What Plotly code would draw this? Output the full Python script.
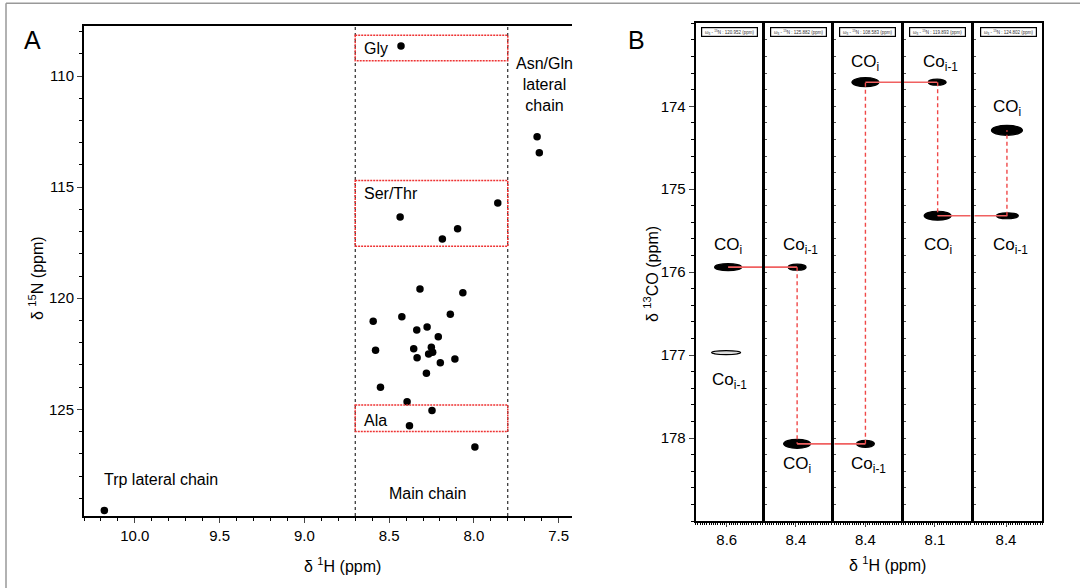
import plotly.graph_objects as go

W, H = 1080, 588
FONT = "Liberation Sans, Arial, sans-serif"

# ---------------- Panel A data (1H-15N HSQC) ----------------
main_h = [8.318, 8.065, 8.594, 8.425, 8.139, 8.337, 8.276, 8.210, 8.580, 8.355, 8.335,
          8.251, 8.267, 8.243, 8.198, 8.112, 8.280, 8.551, 8.394, 8.247, 8.380, 7.994]
main_n = [119.58, 119.75, 121.04, 120.83, 120.72, 121.43, 121.29, 121.73, 122.34, 122.27, 122.68,
          122.21, 122.51, 122.43, 122.90, 122.73, 123.38, 124.01, 124.66, 125.05, 125.74, 126.70]
gly_h = [8.43]
gly_n = [108.65]
sert_h = [8.435, 7.859, 8.096, 8.186]
sert_n = [116.35, 115.72, 116.87, 117.34]
asngln_h = [7.627, 7.614]
asngln_n = [112.73, 113.45]
trp_h = [10.18]
trp_n = [129.55]

main_chain_h = [8.7, 7.8]
region_labels = ["Gly", "Ser/Thr", "Ala"]
region_n_top = [108.17, 114.70, 124.81]
region_n_bottom = [109.31, 117.66, 126.00]
region_label_n = [108.74, 115.30, 125.50]

# ---------------- Panel B data (HNCO strips) ----------------
strip_h_tick = [8.6, 8.4, 8.4, 8.1, 8.4]
strip_n15 = ["120.952", "125.882", "108.583", "119.893", "124.802"]
b_ytick_vals = [174, 175, 176, 177, 178]
coi_h = [8.594, 8.394, 8.400, 8.088, 8.396]
coi_c = [175.94, 178.07, 173.71, 175.32, 174.29]
coim1_h = [8.603, 8.394, 8.400, 8.090, 8.394]
coim1_c = [176.97, 175.94, 178.07, 173.71, 175.32]
coi_label_c = [175.69, 178.32, 173.48, 175.69, 174.02]
coim1_label_c = [177.31, 175.69, 178.32, 173.48, 175.69]

# ---------------- styles ----------------
coi_w = [27, 27, 27, 27, 31]
coi_ht = [7, 9, 9, 9, 10]
coim1_w = [29, 18, 18, 18, 22]
coim1_ht = [4, 6, 7, 6, 6]
coim1_fill = ["#dddddd", "black", "black", "black", "black"]

A_left, A_right, A_top, A_bottom = 84, 572.2, 26, 516
B_top, B_bottom = 23.3, 521
strip_px = [(695.7, 762.3), (765, 831), (834.3, 901), (903.7, 970.7), (974.3, 1042.3)]


def xd(a, b):
    return [a / W, b / W]


def yd(top, bottom):
    return [1 - bottom / H, 1 - top / H]


def txt(size=16):
    return dict(size=size, color="black", family=FONT)


fig = go.Figure()

# Panel A peaks
for hh, nn in [(main_h, main_n), (gly_h, gly_n), (sert_h, sert_n), (asngln_h, asngln_n), (trp_h, trp_n)]:
    fig.add_trace(go.Scatter(x=hh, y=nn, mode="markers", xaxis="x", yaxis="y",
                             marker=dict(color="black", size=7.5, line=dict(width=0)),
                             showlegend=False, hoverinfo="skip"))

shapes = []
annotations = []

# dashed main-chain boundaries
for hv in main_chain_h:
    shapes.append(dict(type="line", xref="x", yref="y domain", x0=hv, x1=hv, y0=0, y1=1,
                       line=dict(color="black", width=1, dash="3px,3px")))
# red dotted boxes
for lab, nt, nb, nl in zip(region_labels, region_n_top, region_n_bottom, region_label_n):
    shapes.append(dict(type="rect", xref="x", yref="y", x0=main_chain_h[0], x1=main_chain_h[1],
                       y0=nt, y1=nb, line=dict(color="#ee3333", width=1.5, dash="2px,1px")))
    annotations.append(dict(text=lab, x=main_chain_h[0], y=nl, xref="x", yref="y",
                            xanchor="left", yanchor="middle", xshift=7, showarrow=False,
                            font=txt()))

annotations += [
    dict(text="Main chain", x=8.275, y=128.78, xref="x", yref="y", showarrow=False,
         xanchor="center", yanchor="middle", font=txt()),
    dict(text="Trp lateral chain", x=9.848, y=128.14, xref="x", yref="y", showarrow=False,
         xanchor="center", yanchor="middle", font=txt()),
    dict(text="Asn/Gln<br>lateral<br>chain", x=7.584, y=110.37, xref="x", yref="y", showarrow=False,
         xanchor="center", yanchor="middle", font=txt()),
    dict(text="A", x=32 / W, y=1 - 40 / H, xref="paper", yref="paper", showarrow=False,
         xanchor="center", yanchor="middle", font=txt(25)),
    dict(text="B", x=636 / W, y=1 - 40 / H, xref="paper", yref="paper", showarrow=False,
         xanchor="center", yanchor="middle", font=txt(25)),
    dict(text="δ <sup>1</sup>H (ppm)", x=342 / W, y=1 - 565 / H, xref="paper", yref="paper",
         xanchor="center", yanchor="middle", showarrow=False, font=txt()),
    dict(text="δ <sup>15</sup>N (ppm)", x=36 / W, y=1 - 278 / H, xref="paper", yref="paper",
         xanchor="center", yanchor="middle", showarrow=False, textangle=-90, font=txt()),
    dict(text="δ <sup>1</sup>H (ppm)", x=887 / W, y=1 - 564 / H, xref="paper", yref="paper",
         xanchor="center", yanchor="middle", showarrow=False, font=txt()),
    dict(text="δ <sup>13</sup>CO (ppm)", x=651 / W, y=1 - 274 / H, xref="paper", yref="paper",
         xanchor="center", yanchor="middle", showarrow=False, textangle=-90, font=txt()),
]

layout_axes = {}
layout_axes["xaxis"] = dict(domain=xd(A_left, A_right), range=[10.3, 7.42], anchor="y",
                            tick0=0, dtick=0.5, tickformat=".1f", ticks="outside", ticklen=5,
                            tickwidth=1.2, showline=True, linewidth=2, linecolor="black",
                            mirror=True, showgrid=False, zeroline=False,
                            minor=dict(dtick=0.1, ticks="outside", ticklen=3, tickwidth=1, tickcolor="black"),
                            tickfont=txt(15))
layout_axes["yaxis"] = dict(domain=yd(A_top, A_bottom), range=[129.8, 107.75], anchor="x",
                            tick0=0, dtick=5, ticks="outside", ticklen=5, tickwidth=1.2,
                            showline=True, linewidth=2, linecolor="black", showgrid=False,
                            zeroline=False,
                            minor=dict(dtick=1, ticks="outside", ticklen=3, tickwidth=1, tickcolor="black"),
                            tickfont=txt(15))

# Panel B strips
for k in range(5):
    xa = "x%d" % (k + 2)
    ya = "y%d" % (k + 2)
    c = strip_h_tick[k]
    xr = [c + 0.14, c - 0.16]
    layout_axes["xaxis%d" % (k + 2)] = dict(
        domain=xd(*strip_px[k]), range=xr, anchor=ya, tickvals=[c], ticktext=["%.1f" % c],
        ticks="outside", ticklen=4, tickwidth=1.2, showline=True, linewidth=2,
        linecolor="black", mirror=True, showgrid=False, zeroline=False,
        minor=dict(dtick=0.01, ticks="outside", ticklen=2, tickwidth=0.8, tickcolor="black"),
        tickfont=txt(15))
    yax = dict(domain=yd(B_top, B_bottom), range=[179, 173], anchor=xa, showline=True,
               linewidth=2, linecolor="black", mirror=True, showgrid=False, zeroline=False)
    if k == 0:
        yax.update(tickvals=b_ytick_vals, ticks="outside", ticklen=5, tickwidth=1.2,
                   minor=dict(dtick=0.2, tick0=0, ticks="outside", ticklen=3, tickwidth=1, tickcolor="black"),
                   tickfont=txt(15))
    else:
        yax.update(matches="y2", showticklabels=False, ticks="inside", ticklen=2, dtick=0.2,
                   tickwidth=0.8, tickcolor="#555")
    layout_axes["yaxis%d" % (k + 2)] = yax

    # peaks as ellipses of fixed pixel size
    for hh, cc, w, ht, fc in [(coi_h[k], coi_c[k], coi_w[k], coi_ht[k], "black"),
                              (coim1_h[k], coim1_c[k], coim1_w[k], coim1_ht[k], coim1_fill[k])]:
        shapes.append(dict(type="circle", xref=xa, yref=ya, xsizemode="pixel", ysizemode="pixel",
                           xanchor=hh, yanchor=cc, x0=-w / 2, x1=w / 2, y0=-ht / 2, y1=ht / 2,
                           fillcolor=fc, line=dict(color="black", width=1.2), layer="below"))

    # labels
    annotations.append(dict(text="CO<sub>i</sub>", x=coi_h[k], y=coi_label_c[k], xref=xa, yref=ya,
                            xanchor="center", yanchor="middle", showarrow=False, font=txt(17)))
    annotations.append(dict(text="Co<sub>i-1</sub>", x=coim1_h[k], y=coim1_label_c[k], xref=xa, yref=ya,
                            xanchor="center", yanchor="middle", xshift=3, showarrow=False, font=txt(17)))
    # strip header
    annotations.append(dict(text="ω<sub>3</sub> - <sup>15</sup>N : %s (ppm)" % strip_n15[k],
                            x=0.5, y=1 - 8.5 / (B_bottom - B_top), xref=xa + " domain", yref=ya + " domain",
                            xanchor="center", yanchor="middle",
                            showarrow=False, width=54, height=7, borderpad=0.5,
                            bordercolor="black", borderwidth=1.2, bgcolor="white",
                            font=dict(size=4.5, color="#333", family=FONT)))

# connection lines (sequential walk)
for k in range(4):
    xa1, ya1 = "x%d" % (k + 2), "y%d" % (k + 2)
    xa2, ya2 = "x%d" % (k + 3), "y%d" % (k + 3)
    r1 = layout_axes["xaxis%d" % (k + 2)]["range"]
    r2 = layout_axes["xaxis%d" % (k + 3)]["range"]
    fig.add_trace(go.Scatter(x=[coi_h[k], r1[1]], y=[coi_c[k], coi_c[k]], mode="lines",
                             xaxis=xa1, yaxis=ya1, line=dict(color="#f06060", width=1.6),
                             showlegend=False, hoverinfo="skip"))
    fig.add_trace(go.Scatter(x=[r2[0], coim1_h[k + 1]], y=[coim1_c[k + 1], coim1_c[k + 1]], mode="lines",
                             xaxis=xa2, yaxis=ya2, line=dict(color="#f06060", width=1.6),
                             showlegend=False, hoverinfo="skip"))
    fig.add_trace(go.Scatter(x=[coi_h[k + 1], coi_h[k + 1]], y=[coim1_c[k + 1], coi_c[k + 1]],
                             mode="lines", xaxis=xa2, yaxis=ya2,
                             line=dict(color="#f04848", width=1.4, dash="4px,3px"),
                             showlegend=False, hoverinfo="skip"))

# outer frame (top and left only)
shapes.append(dict(type="line", xref="paper", yref="paper", x0=6 / W, x1=1.01, y0=1 - 3.3 / H, y1=1 - 3.3 / H,
                   line=dict(color="#999999", width=1.5)))
shapes.append(dict(type="line", xref="paper", yref="paper", x0=6 / W, x1=6 / W, y0=-0.01, y1=1 - 3.3 / H,
                   line=dict(color="#999999", width=1.5)))

fig.update_layout(width=W, height=H, margin=dict(l=0, r=0, t=0, b=0),
                  paper_bgcolor="white", plot_bgcolor="white", showlegend=False,
                  font=dict(family=FONT, color="black"),
                  shapes=shapes, annotations=annotations, **layout_axes)

fig.write_html("out.html", config={"displayModeBar": False},
               post_script="document.body.style.margin='0px';")
